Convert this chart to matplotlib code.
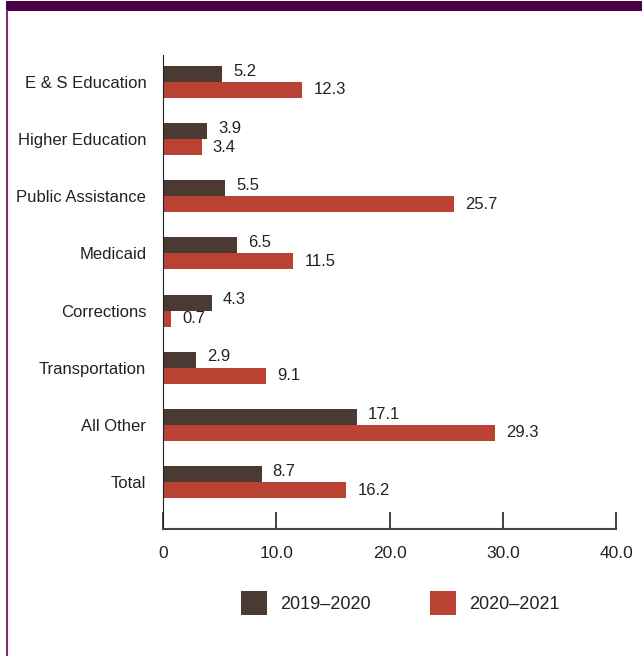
import matplotlib
matplotlib.use("Agg")
import matplotlib.pyplot as plt
import numpy as np
from matplotlib.patches import Rectangle
from matplotlib.lines import Line2D

categories = ["E & S Education", "Higher Education", "Public Assistance", "Medicaid",
              "Corrections", "Transportation", "All Other", "Total"]
series_names = ["2019\u20132020", "2020\u20132021"]
values_2019_2020 = [5.2, 3.9, 5.5, 6.5, 4.3, 2.9, 17.1, 8.7]
values_2020_2021 = [12.3, 3.4, 25.7, 11.5, 0.7, 9.1, 29.3, 16.2]
x_ticks = [0, 10, 20, 30, 40]
x_tick_labels = ["0", "10.0", "20.0", "30.0", "40.0"]

dark = "#4a3a33"
red = "#b94232"
plt.rcParams["font.family"] = ["Liberation Sans Narrow", "Liberation Sans", "DejaVu Sans"]

W, H = 642, 656
fig = plt.figure(figsize=(W / 100, H / 100), dpi=100)
fig.patch.set_facecolor("white")

# frame decoration: purple header band and left rule
fig.add_artist(Rectangle((6 / W, 1 - 11 / H), 1 - 6 / W, 10 / H, transform=fig.transFigure,
                         facecolor="#4b0047", edgecolor="none"))
fig.add_artist(Line2D([6.5 / W, 6.5 / W], [0, 1 - 11 / H], transform=fig.transFigure,
                      color="#7d2a7d", lw=1.5))

left, right = 163 / W, 616 / W
top, bottom = 1 - 55 / H, 1 - 529 / H
ax = fig.add_axes([left, bottom, right - left, top - bottom])

y = np.arange(len(categories))
h = 0.28
ax.barh(y - h / 2, values_2019_2020, height=h, color=dark, label=series_names[0])
ax.barh(y + h / 2, values_2020_2021, height=h, color=red, label=series_names[1])

for yi, v in zip(y, values_2019_2020):
    ax.annotate(f"{v:.1f}", (v, yi - h / 2), xytext=(8, 2), textcoords="offset points",
                va="center", ha="left", fontsize=12, color="#222222")
for yi, v in zip(y, values_2020_2021):
    ax.annotate(f"{v:.1f}", (v, yi + h / 2), xytext=(8, 0), textcoords="offset points",
                va="center", ha="left", fontsize=12, color="#222222")

ax.set_xlim(0, 40)
ax.set_ylim(len(categories) - 1 + 0.82, -0.47)
ax.set_yticks(y)
ax.set_yticklabels(categories, fontsize=12, color="#222222")
ax.tick_params(axis="y", length=0, pad=12)
ax.set_xticks(x_ticks)
ax.set_xticklabels(x_tick_labels, fontsize=12.5, color="#222222")
ax.tick_params(axis="x", direction="in", length=12, width=1.2, pad=12, color="#222222")
for s in ["top", "right"]:
    ax.spines[s].set_visible(False)
ax.spines["left"].set_color("#222222")
ax.spines["bottom"].set_color("#444444")
ax.spines["bottom"].set_linewidth(1.5)

leg = fig.legend(loc="center", bbox_to_anchor=(400 / W, 1 - 603 / H), ncol=2, frameon=False,
                 fontsize=13, handlelength=1.45, handleheight=1.6, handletextpad=0.7,
                 columnspacing=3.3)
for t in leg.get_texts():
    t.set_color("#222222")

fig.savefig("out.png", dpi=100)
